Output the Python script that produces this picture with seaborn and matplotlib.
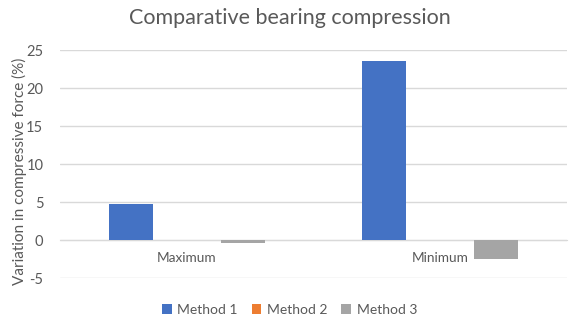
import matplotlib
matplotlib.use("Agg")
import matplotlib.pyplot as plt
import seaborn as sns
import pandas as pd
from matplotlib.patches import Patch

categories = ["Maximum", "Minimum"]
methods = ["Method 1", "Method 2", "Method 3"]
method1 = [4.8, 23.6]
method2 = [0.0, 0.0]
method3 = [-0.45, -2.45]
colors = ["#4472C4", "#ED7D31", "#A5A5A5"]
yticks = [-5, 0, 5, 10, 15, 20, 25]

rows = []
for m, vals in zip(methods, [method1, method2, method3]):
    for c, v in zip(categories, vals):
        rows.append({"Category": c, "Method": m, "Value": v})
df = pd.DataFrame(rows)

sns.set_style("white")
plt.rcParams["font.family"] = ["Lato", "DejaVu Sans"]
text_col = "#595959"
grid_col = "#D9D9D9"

fig = plt.figure(figsize=(5.79, 3.30), dpi=100)
ax = fig.add_axes([60/579, 1-278/330, (567-60)/579, (278-50)/330])

sns.barplot(data=df, x="Category", y="Value", hue="Method", palette=colors,
            width=0.663, gap=0.214, ax=ax, legend=False, saturation=1, linewidth=0)

ax.set_xlim(-0.5, 1.5)
ax.set_ylim(-5, 25)
ax.set_yticks(yticks)
ax.set_yticklabels([str(t) for t in yticks], fontsize=10.5, color=text_col)
ax.yaxis.grid(True, color=grid_col, linewidth=1)
ax.set_axisbelow(True)
for s in ["top", "right", "left"]:
    ax.spines[s].set_visible(False)
ax.spines["bottom"].set_position(("data", 0))
ax.spines["bottom"].set_color(grid_col)
ax.spines["bottom"].set_zorder(0.5)
ax.tick_params(axis="y", length=0, pad=12)
ax.tick_params(axis="x", length=0, pad=9, labelsize=9.8, labelcolor=text_col)
ax.set_xlabel("")
ax.set_ylabel("Variation in compressive force (%)", fontsize=11, color=text_col)
ax.yaxis.set_label_coords(-0.066, 0.47)

fig.text(0.5, 1-18/330, "Comparative bearing compression", ha="center", va="center",
         fontsize=15.5, color=text_col)

handles = [Patch(facecolor=c, edgecolor="none", label=m) for m, c in zip(methods, colors)]
fig.legend(handles=handles, loc="center", bbox_to_anchor=(0.5, 1-310/330), ncol=3,
           frameon=False, fontsize=10, handlelength=0.7, handleheight=0.7,
           handletextpad=0.4, columnspacing=1.0, labelcolor=text_col)

fig.savefig("out.png", dpi=100)
